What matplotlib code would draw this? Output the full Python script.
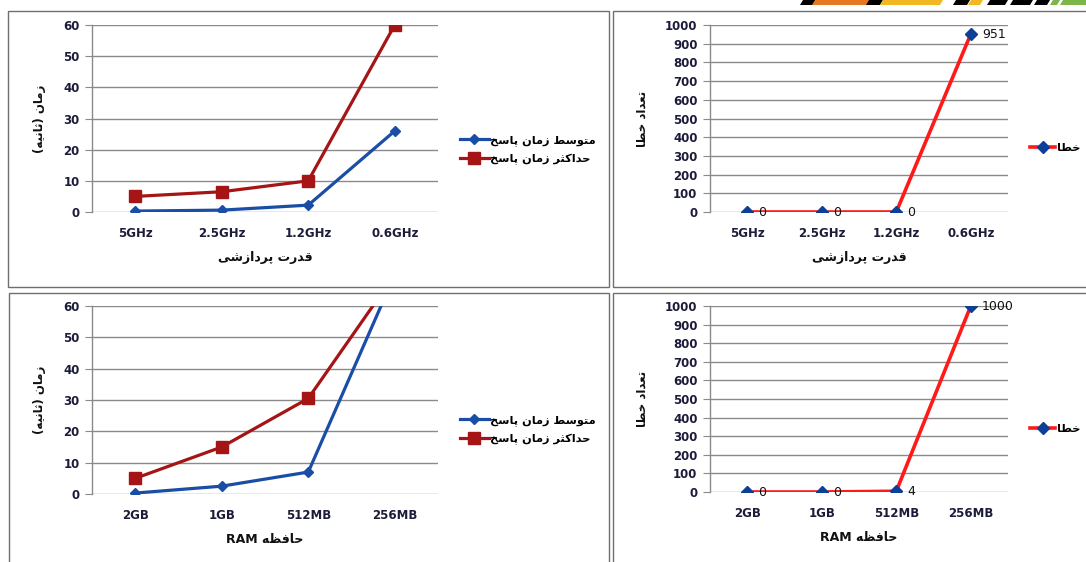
import re
import matplotlib
matplotlib.use("Agg")
import matplotlib.pyplot as plt
from matplotlib.patches import Rectangle, Polygon

# ---------------- data ----------------
cpu_labels = ['5GHz', '2.5GHz', '1.2GHz', '0.6GHz']
ram_labels = ['2GB', '1GB', '512MB', '256MB']
cpu_avg = [0.3, 0.6, 2.2, 26]
cpu_max = [5, 6.5, 10, 60]
cpu_err = [0, 0, 0, 951]
ram_avg = [0.3, 2.5, 7, 70]
ram_max = [5, 15, 30.5, 70]
ram_err = [0, 0, 4, 1000]

name_avg = 'متوسط زمان پاسخ'
name_max = 'حداکثر زمان پاسخ'
name_err = 'خطا'
ylab_time = 'زمان (ثانیه)'
ylab_err = 'تعداد خطا'
xlab_cpu = 'قدرت پردازشی'
xlab_ram = 'حافظه RAM'

# ------------- minimal Arabic/Persian shaping -------------
AR = {
    '\u0627': ('\uFE8D', '\uFE8E'),
    '\u062F': ('\uFEA9', '\uFEAA'),
    '\u0631': ('\uFEAD', '\uFEAE'),
    '\u0632': ('\uFEAF', '\uFEB0'),
    '\u0648': ('\uFEED', '\uFEEE'),
    '\u062A': ('\uFE95', '\uFE96', '\uFE97', '\uFE98'),
    '\u062B': ('\uFE99', '\uFE9A', '\uFE9B', '\uFE9C'),
    '\u062D': ('\uFEA1', '\uFEA2', '\uFEA3', '\uFEA4'),
    '\u062E': ('\uFEA5', '\uFEA6', '\uFEA7', '\uFEA8'),
    '\u0633': ('\uFEB1', '\uFEB2', '\uFEB3', '\uFEB4'),
    '\u0634': ('\uFEB5', '\uFEB6', '\uFEB7', '\uFEB8'),
    '\u0637': ('\uFEC1', '\uFEC2', '\uFEC3', '\uFEC4'),
    '\u0638': ('\uFEC5', '\uFEC6', '\uFEC7', '\uFEC8'),
    '\u0639': ('\uFEC9', '\uFECA', '\uFECB', '\uFECC'),
    '\u0641': ('\uFED1', '\uFED2', '\uFED3', '\uFED4'),
    '\u0642': ('\uFED5', '\uFED6', '\uFED7', '\uFED8'),
    '\u0645': ('\uFEE1', '\uFEE2', '\uFEE3', '\uFEE4'),
    '\u0646': ('\uFEE5', '\uFEE6', '\uFEE7', '\uFEE8'),
    '\u0647': ('\uFEE9', '\uFEEA', '\uFEEB', '\uFEEC'),
    '\u067E': ('\uFB56', '\uFB57', '\uFB58', '\uFB59'),
    '\u06A9': ('\uFB8E', '\uFB8F', '\uFB90', '\uFB91'),
    '\u06CC': ('\uFBFC', '\uFBFD', '\uFBFE', '\uFBFF'),
}


def _shape(s):
    out = []
    n = len(s)
    for i, c in enumerate(s):
        if c not in AR:
            out.append(c)
            continue
        f = AR[c]
        prev = s[i - 1] if i > 0 else ''
        nxt = s[i + 1] if i < n - 1 else ''
        pj = prev in AR and len(AR[prev]) == 4
        nj = len(f) == 4 and nxt in AR
        if pj and nj:
            out.append(f[3])
        elif pj:
            out.append(f[1])
        elif nj:
            out.append(f[2])
        else:
            out.append(f[0])
    return ''.join(out)


def rtl(s):
    shaped = _shape(s)
    runs = re.findall(r'[A-Za-z0-9.]+|[^A-Za-z0-9.]+', shaped)
    out = []
    for r in reversed(runs):
        if re.match(r'[A-Za-z0-9.]', r):
            out.append(r)
        else:
            out.append(r[::-1].translate(str.maketrans('()', ')(')))
    return ''.join(out)


# ---------------- figure ----------------
W, H = 1086, 562
fig = plt.figure(figsize=(W / 100, H / 100), dpi=100)
fig.patch.set_facecolor('white')

TICK_C = '#1c1c3a'
GRID_C = '#8a8a8a'
AR_FONT = ['DejaVu Sans']


def px_axes(l, t, r, b):
    return fig.add_axes([l / W, 1 - b / H, (r - l) / W, (b - t) / H])


def style(ax, labels, ymax, ystep):
    ax.set_xlim(-0.5, len(labels) - 0.5)
    ax.set_ylim(0, ymax)
    ax.set_yticks(range(0, ymax + 1, ystep))
    ax.set_xticks(range(len(labels)))
    ax.set_xticklabels(labels)
    ax.grid(axis='y', color=GRID_C, lw=1.0)
    ax.set_axisbelow(True)
    for sp in ['top', 'right', 'bottom']:
        ax.spines[sp].set_visible(False)
    ax.spines['left'].set_color(GRID_C)
    ax.spines['left'].set_linewidth(1.0)
    ax.tick_params(axis='y', length=5, color=GRID_C, labelsize=8.5,
                   labelcolor=TICK_C, pad=4)
    ax.tick_params(axis='x', length=0, labelsize=8.5, labelcolor=TICK_C, pad=11)
    for t in ax.get_xticklabels() + ax.get_yticklabels():
        t.set_fontweight('semibold')


# panel borders
for (l, t, r, b) in [(8, 11, 609, 287), (613, 11, 1095, 287),
                     (9, 293, 609, 575), (613, 293, 1095, 575)]:
    fig.add_artist(Rectangle((l / W, 1 - b / H), (r - l) / W, (b - t) / H,
                             transform=fig.transFigure, fill=False,
                             ec='#6f6f6f', lw=1.0))

# decorative stripe (top right)
stripes = [(800, 833, 'black'), (812, 868, '#e87722'), (866, 880, 'black'),
           (880, 940, '#f2b824'), (953, 967, 'black'), (968, 980, '#f2b824'),
           (987, 1005, 'black'), (1010, 1030, 'black'), (1034, 1047, 'black'),
           (1050, 1057, '#7ab648'), (1060, 1090, '#7ab648')]
for (a, b, c) in stripes:
    fig.add_artist(Polygon([((a + 3) / W, 1), ((b + 3) / W, 1),
                            (b / W, 1 - 5 / H), (a / W, 1 - 5 / H)],
                           closed=True, transform=fig.transFigure,
                           fc=c, ec='none'))


def time_panel(t, b, labels, avg, mx, xlab, leg_y):
    ax = px_axes(92, t, 438, b)
    style(ax, labels, 60, 10)
    x = list(range(len(labels)))
    ax.plot(x, avg, color='#1a4ea6', lw=2.3, marker='D', ms=5.5,
            mfc='#1a4ea6', mec='#1a4ea6', label=rtl(name_avg))
    ax.plot(x, mx, color='#a51515', lw=2.3, marker='s', ms=8,
            mfc='#a51515', mec='#a51515', label=rtl(name_max))
    ax.set_xlabel(rtl(xlab), family=AR_FONT, fontweight='bold', fontsize=9,
                  labelpad=8, color='#111111')
    ax.set_ylabel(rtl(ylab_time), family=AR_FONT, fontweight='bold',
                  fontsize=8.5, labelpad=12, color='#111111')
    fig.legend(handles=ax.get_lines(), loc='center left',
               bbox_to_anchor=(450 / W, 1 - leg_y / H), frameon=False,
               prop={'family': AR_FONT, 'weight': 'bold', 'size': 8.2},
               handlelength=2.5, handletextpad=0.15, labelspacing=0.75)
    return ax


def err_panel(t, b, labels, err, xlab, leg_y):
    ax = px_axes(710, t, 1008, b)
    style(ax, labels, 1000, 100)
    x = list(range(len(labels)))
    ax.plot(x, err, color='#ff1a1a', lw=2.6, marker='D', ms=6.5,
            mfc='#0d3f96', mec='#0d3f96', label=rtl(name_err), zorder=3)
    for xi, v in zip(x, err):
        ax.annotate(str(v), (xi, v), xytext=(8, 0), textcoords='offset points',
                    ha='left', va='center', fontsize=9, color='#111111')
    ax.set_xlabel(rtl(xlab), family=AR_FONT, fontweight='bold', fontsize=9,
                  labelpad=8, color='#111111')
    ax.set_ylabel(rtl(ylab_err), family=AR_FONT, fontweight='bold',
                  fontsize=8.5, labelpad=12, color='#111111')
    fig.legend(handles=ax.get_lines(), loc='center left',
               bbox_to_anchor=(1020 / W, 1 - leg_y / H), frameon=False,
               prop={'family': AR_FONT, 'weight': 'bold', 'size': 8.2},
               handlelength=2.2, handletextpad=0.15)
    return ax


time_panel(25, 212, cpu_labels, cpu_avg, cpu_max, xlab_cpu, 150)
err_panel(25, 212, cpu_labels, cpu_err, xlab_cpu, 148)
time_panel(306, 494, ram_labels, ram_avg, ram_max, xlab_ram, 430)
err_panel(306, 492, ram_labels, ram_err, xlab_ram, 429)

fig.savefig('out.png', dpi=100, facecolor='white')
